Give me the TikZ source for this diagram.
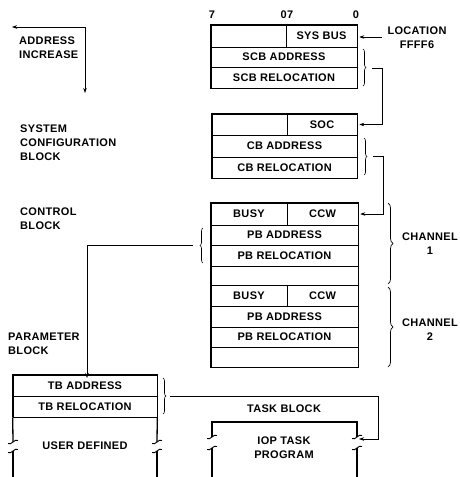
\documentclass[tikz,border=0pt]{standalone}
\usepackage{fontspec}
\setmainfont[LetterSpace=3]{Liberation Sans}
\usetikzlibrary{arrows.meta,decorations.pathreplacing}
\begin{document}
\begin{tikzpicture}[x=1pt,y=-1pt,
  txt/.style={font=\fontsize{11}{14}\selectfont\bfseries, inner sep=0pt},
  cell/.style={txt, draw, line width=0.6pt, rectangle, inner sep=0pt, anchor=center},
  frame/.style={draw, line width=1.3pt},
  conn/.style={line width=0.6pt},
  arr/.style={conn,-{Stealth[length=5pt,width=3.5pt]}},
  brc/.style={decorate,decoration={brace,amplitude=3pt},line width=0.6pt},
  bigbrc/.style={decorate,decoration={brace,amplitude=5pt},line width=0.7pt},
  lbl/.style={txt, align=left, anchor=north west},
  clbl/.style={txt, align=center}
]
\useasboundingbox (0,0) rectangle (460,477);

% ---------- bit labels ----------
\node[txt] (b7) at (212,15) {7};
\node[txt] (b07) at (287,15) {07};
\node[txt] (b0) at (356,15) {0};

% ---------- block 1 : system bus / SCB pointer ----------
\node[cell, minimum width=75pt, minimum height=22pt] (sbL) at (248.5,36) {};
\node[cell, minimum width=71pt, minimum height=22pt] (sysbus) at (321.5,36) {SYS BUS};
\node[cell, minimum width=146pt, minimum height=20pt] (scbaddr) at (284,57) {SCB ADDRESS};
\node[cell, minimum width=146pt, minimum height=21pt] (scbrel) at (284,77.5) {SCB RELOCATION};
\draw[frame] (sbL.north west) rectangle (scbrel.south east);

% ---------- block 2 : SCB ----------
\node[cell, minimum width=75pt, minimum height=21pt] (socL) at (249.5,124.5) {};
\node[cell, minimum width=70pt, minimum height=21pt] (soc) at (322,124.5) {SOC};
\node[cell, minimum width=145pt, minimum height=22pt] (cbaddr) at (284.5,146) {CB ADDRESS};
\node[cell, minimum width=145pt, minimum height=21pt] (cbrel) at (284.5,167.5) {CB RELOCATION};
\draw[frame] (socL.north west) rectangle (cbrel.south east);

% ---------- block 3 : control block ----------
\node[cell, minimum width=76pt, minimum height=22pt] (busy1) at (249,214) {BUSY};
\node[cell, minimum width=71pt, minimum height=22pt] (ccw1) at (322.5,214) {CCW};
\node[cell, minimum width=147pt, minimum height=20pt] (pba1) at (284.5,235) {PB ADDRESS};
\node[cell, minimum width=147pt, minimum height=21pt] (pbr1) at (284.5,255.5) {PB RELOCATION};
\node[cell, minimum width=147pt, minimum height=19pt] (res1) at (284.5,275.5) {};
\node[cell, minimum width=76pt, minimum height=21pt] (busy2) at (249,295.5) {BUSY};
\node[cell, minimum width=71pt, minimum height=21pt] (ccw2) at (322.5,295.5) {CCW};
\node[cell, minimum width=147pt, minimum height=21pt] (pba2) at (284.5,316.5) {PB ADDRESS};
\node[cell, minimum width=147pt, minimum height=20pt] (pbr2) at (284.5,337) {PB RELOCATION};
\node[cell, minimum width=147pt, minimum height=20pt] (res2) at (284.5,357) {};
\draw[frame] (busy1.north west) rectangle (res2.south east);

% ---------- parameter block ----------
\node[cell, minimum width=144pt, minimum height=21pt] (tba) at (85,385.5) {TB ADDRESS};
\node[cell, minimum width=144pt, minimum height=21pt] (tbr) at (85,406.5) {TB RELOCATION};
\draw[frame] (tbr.south west) -- (tba.north west) -- (tba.north east) -- (tbr.south east);
\coordinate (pL1) at (13,442);  \coordinate (pL2) at (13,451);
\coordinate (pR1) at (157,442); \coordinate (pR2) at (157,451);
\draw[frame] (tbr.south west) -- (pL1);
\draw[frame] (tbr.south east) -- (pR1);
\draw[frame] (pL2) -- (13,479);
\draw[frame] (pR2) -- (157,479);
\foreach \p in {pL1,pL2,pR1,pR2}{
  \draw[line width=0.9pt] ([shift={(-5,1.5)}]\p) .. controls ([shift={(-2,4)}]\p) and ([shift={(2,-4)}]\p) .. ([shift={(5,-1.5)}]\p);
}
\node[clbl] (user) at (85,446) {USER DEFINED};

% ---------- task block ----------
\coordinate (tTL) at (212,422); \coordinate (tTR) at (357,422);
\coordinate (tL1) at (212,437); \coordinate (tL2) at (212,448);
\coordinate (tR1) at (357,437); \coordinate (tR2) at (357,448);
\draw[frame] (tL1) -- (tTL) -- (tTR) -- (tR1);
\draw[frame] (tL2) -- (212,479);
\draw[frame] (tR2) -- (357,479);
\foreach \p in {tL1,tL2,tR1,tR2}{
  \draw[line width=0.9pt] ([shift={(-5,1.5)}]\p) .. controls ([shift={(-2,4)}]\p) and ([shift={(2,-4)}]\p) .. ([shift={(5,-1.5)}]\p);
}
\node[clbl] (iop) at (284,448) {IOP TASK\\PROGRAM};
\node[clbl] (tasklbl) at (284,409) {TASK BLOCK};

% ---------- left labels ----------
\node[lbl] (addrinc) at (19,37) {ADDRESS\\INCREASE};
\node[lbl] (scblbl) at (20,125) {SYSTEM\\CONFIGURATION\\BLOCK};
\node[lbl] (cblbl) at (20,208) {CONTROL\\BLOCK};
\node[lbl] (pblbl) at (8,333) {PARAMETER\\BLOCK};

% ---------- right labels ----------
\node[clbl] (loc) at (417,38) {LOCATION\\FFFF6};
\node[clbl] (ch1) at (430,244) {CHANNEL\\1};
\node[clbl] (ch2) at (430,330) {CHANNEL\\2};

% ---------- address increase arrows ----------
\coordinate (ai) at (85,27);
\coordinate (aiL) at (12,27);
\coordinate (aiD) at (85,93);
\draw[arr] (ai) -- (aiL);
\draw[arr] (ai) -- (aiD);

% ---------- location arrow ----------
\coordinate (locS) at (382,37);
\draw[arr] (locS) -- ([xshift=2pt]sysbus.east |- locS);

% ---------- braces ----------
\draw[brc] (363,49) -- (363,86);
\draw[brc] (364,138) -- (364,175);
\draw[brc] (203,263) -- (203,228);
\draw[brc] (163,378) -- (163,414);
\draw[bigbrc] (388,203) -- (388,284);
\draw[bigbrc] (388,287) -- (388,367);

% ---------- pointer connectors ----------
\coordinate (c1) at (372,68);
\draw[arr] (c1) -- (382,68) -- (382,124.5) -- ([xshift=2pt]soc.east);
\coordinate (c2) at (373,156);
\draw[arr] (c2) -- (383,156) -- (383,214) -- ([xshift=2pt]ccw1.east);
\coordinate (c3) at (193,245.5);
\draw[arr] (c3) -- (87,245.5) -- ([yshift=-3pt]87,375);
\coordinate (c4) at (170,396);
\coordinate (tArr) at (359,439);
\draw[arr] (c4) -- (378,396) -- (378,439) -- (tArr);

\end{tikzpicture}
\end{document}
